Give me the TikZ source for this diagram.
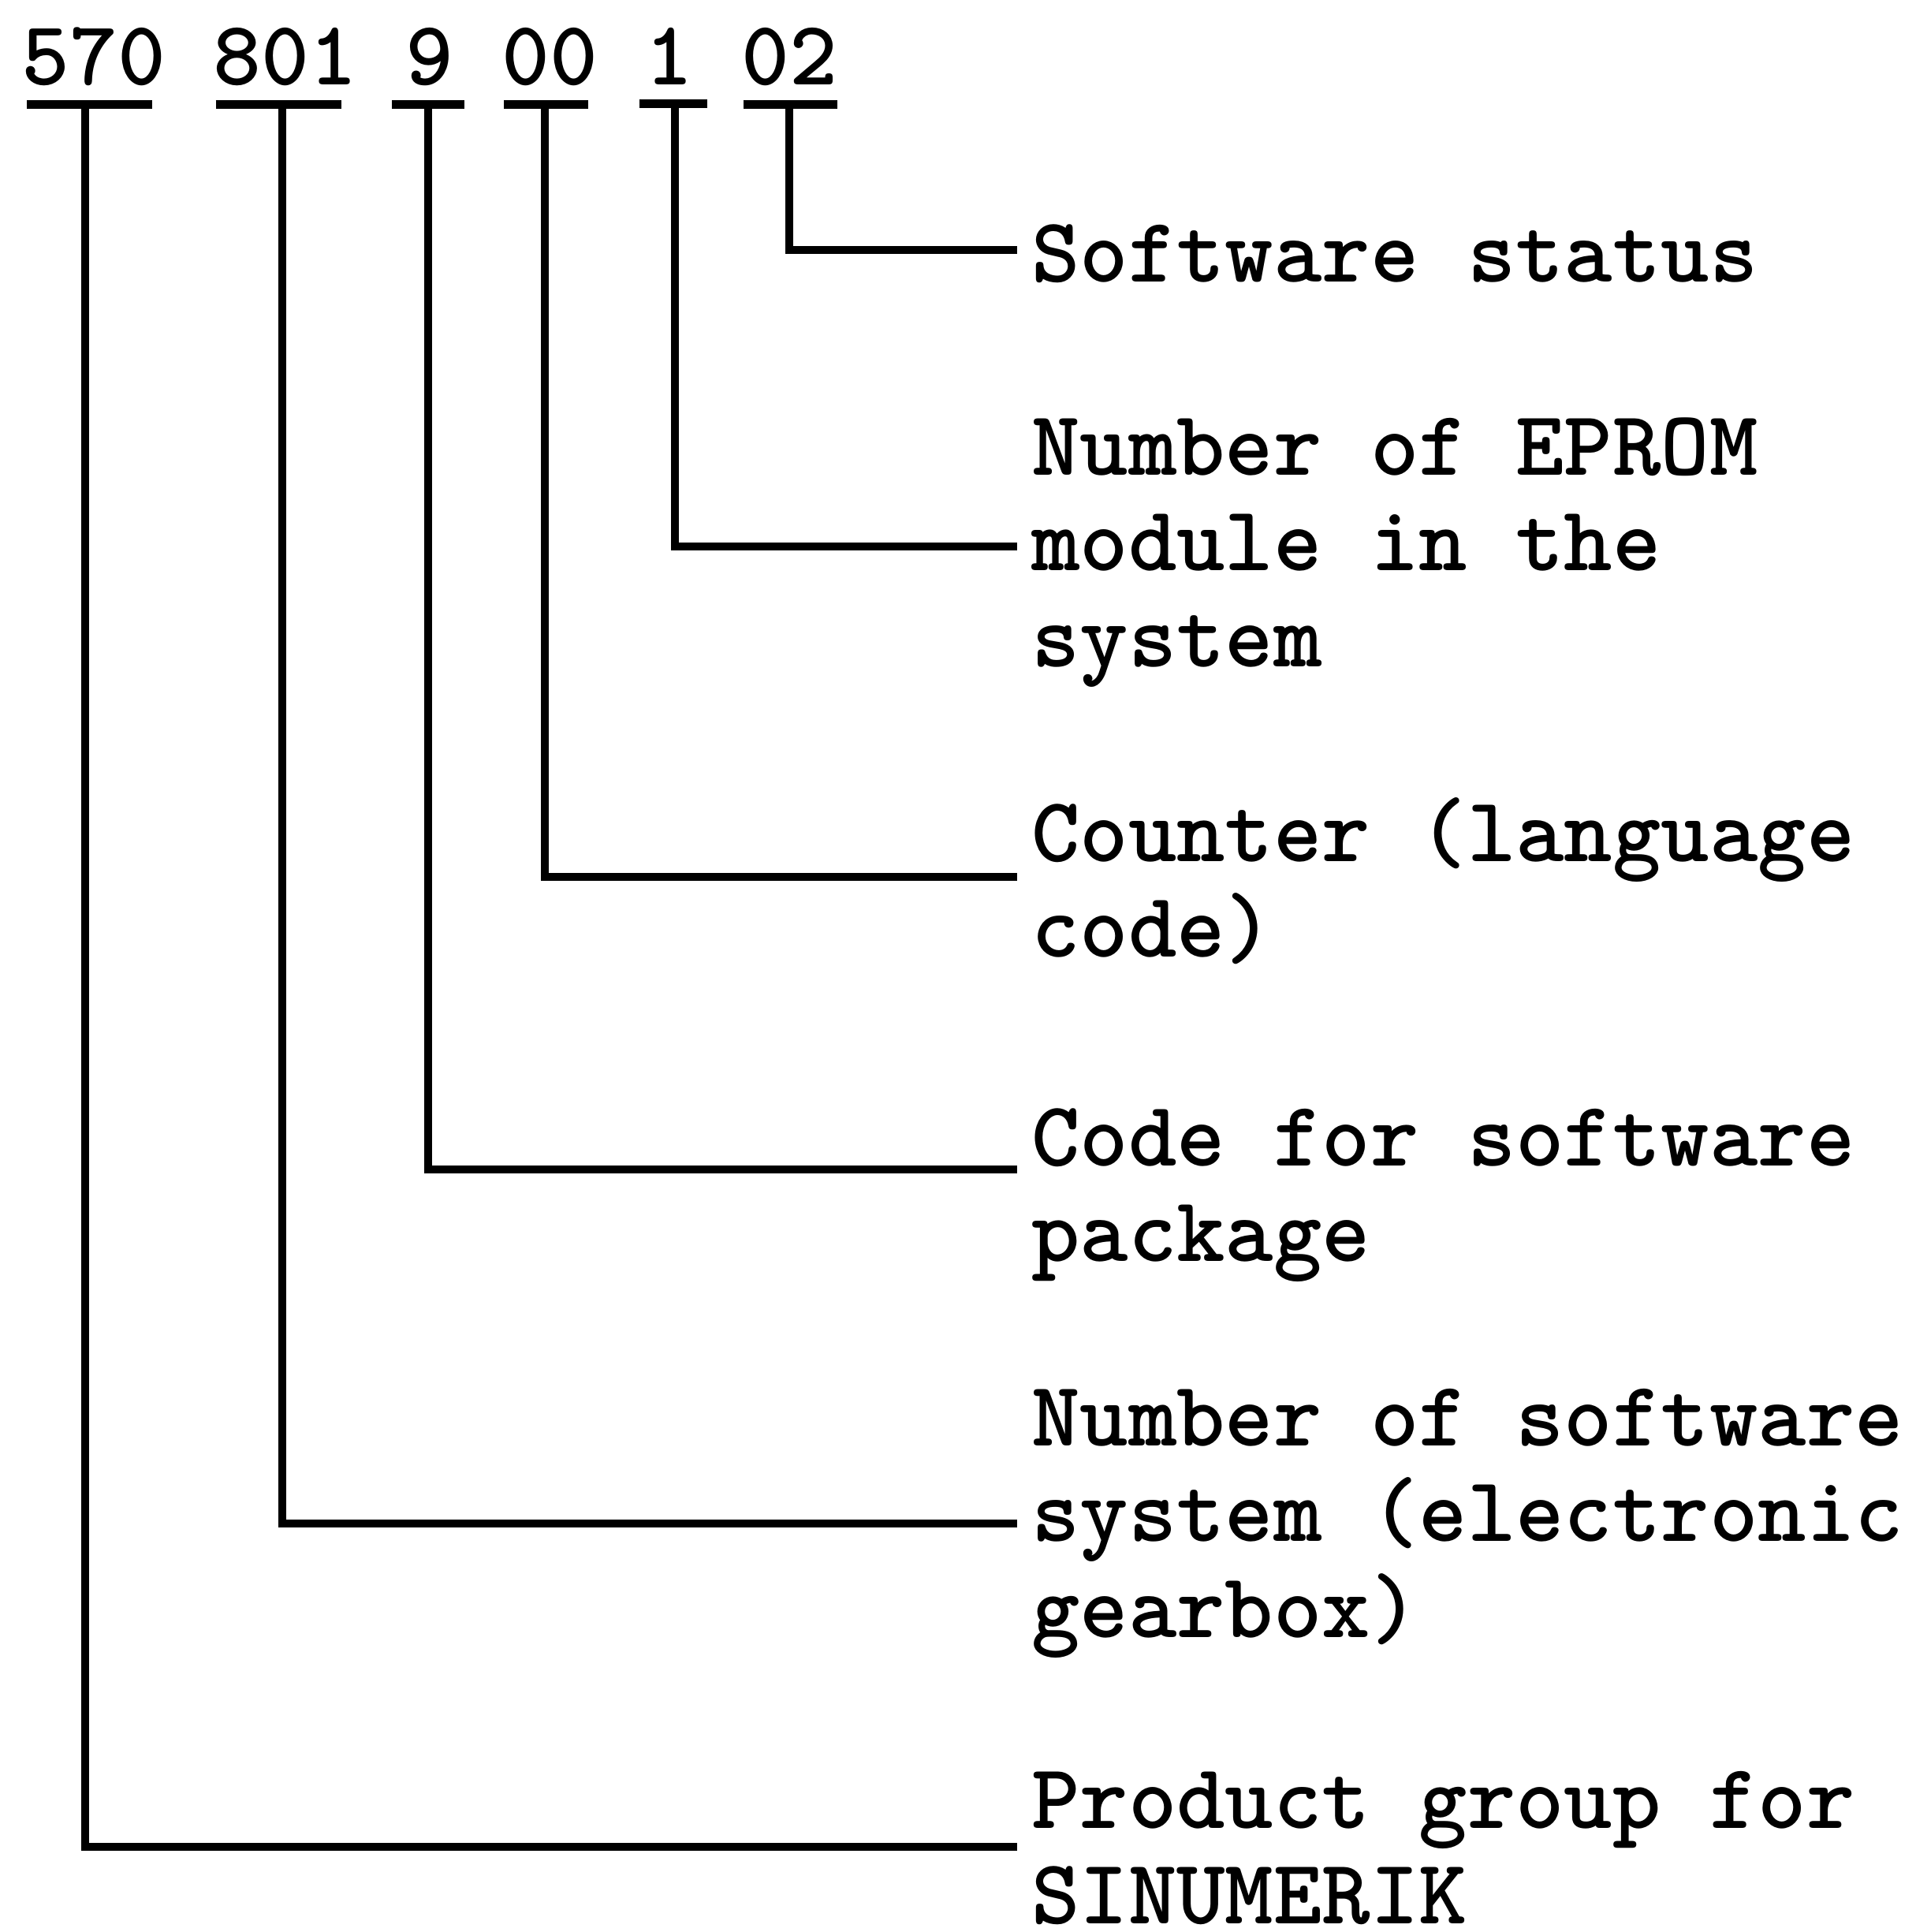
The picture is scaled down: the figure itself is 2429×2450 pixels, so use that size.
\documentclass[tikz,border=0pt]{standalone}
\newcommand\numface{\fontsize{116}{121.5}\selectfont\ttfamily\bfseries}
\newcommand\descface{\fontsize{117}{121.5}\selectfont\ttfamily\bfseries}
\begin{document}
\begin{tikzpicture}[x=1pt,y=-1pt,
  digits/.style={font=\numface, inner sep=0pt, anchor=base west},
  desc/.style={font=\descface, inner sep=0pt, anchor=base west},
  uline/.style={line width=11pt},
  conn/.style={line width=10pt}]
\useasboundingbox (0,0) rectangle (2429,2450);

% part number, one node per field
\node[digits] (g1) at (27,107)    {570};
\node[digits] (g2) at (270.6,107) {801};
\node[digits] (g3) at (514.2,107) {9};
\node[digits] (g4) at (636,107)   {00};
\node[digits] (g5) at (818.7,107) {1};
\node[digits] (g6) at (940.5,107) {02};

% underlines of the fields
\draw[uline] ([xshift=7pt,yshift=-24pt]g1.south west) -- ([xshift=-17pt,yshift=-24pt]g1.south east);
\draw[uline] ([xshift=3pt,yshift=-24pt]g2.south west) -- ([xshift=-21pt,yshift=-24pt]g2.south east);
\draw[uline] ([xshift=-17pt,yshift=-24pt]g3.south west) -- ([xshift=13pt,yshift=-24pt]g3.south east);
\draw[uline] ([xshift=3pt,yshift=-24pt]g4.south west) -- ([xshift=-12pt,yshift=-24pt]g4.south east);
\draw[uline] ([xshift=-8pt,yshift=-24pt]g5.south west) -- ([xshift=17pt,yshift=-24pt]g5.south east);
\draw[uline] ([xshift=2pt,yshift=-24pt]g6.south west) -- ([xshift=-1pt,yshift=-24pt]g6.south east);

% stem tops on the underlines
\coordinate (s1) at ([xshift=-11pt,yshift=-24pt]g1.south);
\coordinate (s2) at ([xshift=-4pt,yshift=-24pt]g2.south);
\coordinate (s3) at ([xshift=-2pt,yshift=-24pt]g3.south);
\coordinate (s4) at ([xshift=-6pt,yshift=-24pt]g4.south);
\coordinate (s5) at ([xshift=7pt,yshift=-24pt]g5.south);
\coordinate (s6) at ([xshift=-1pt,yshift=-24pt]g6.south);

% descriptions
\node[desc] (d6) at (1308,357)  {Software status};
\node[desc] (d5) at (1308,602)  {\vtop{\hbox{Number of EPROM}\hbox{module in the}\hbox{system}}};
\node[desc] (d4) at (1308,1092) {\vtop{\hbox{Counter (language}\hbox{code)}}};
\node[desc] (d3) at (1308,1478) {\vtop{\hbox{Code for software}\hbox{package}}};
\node[desc] (d2) at (1308,1833) {\vtop{\hbox{Number of software}\hbox{system (electronic}\hbox{gearbox)}}};
\node[desc] (d1) at (1308,2318) {\vtop{\hbox{Product group for}\hbox{SINUMERIK}}};

% leader ends next to the descriptions
\coordinate (e6) at (1290,317);
\coordinate (e5) at (1290,693);
\coordinate (e4) at (1290,1112);
\coordinate (e3) at (1290,1483);
\coordinate (e2) at (1290,1932);
\coordinate (e1) at (1290,2342);

% leaders
\draw[conn] (s6) |- (e6);
\draw[conn] (s5) |- (e5);
\draw[conn] (s4) |- (e4);
\draw[conn] (s3) |- (e3);
\draw[conn] (s2) |- (e2);
\draw[conn] (s1) |- (e1);
\end{tikzpicture}
\end{document}
